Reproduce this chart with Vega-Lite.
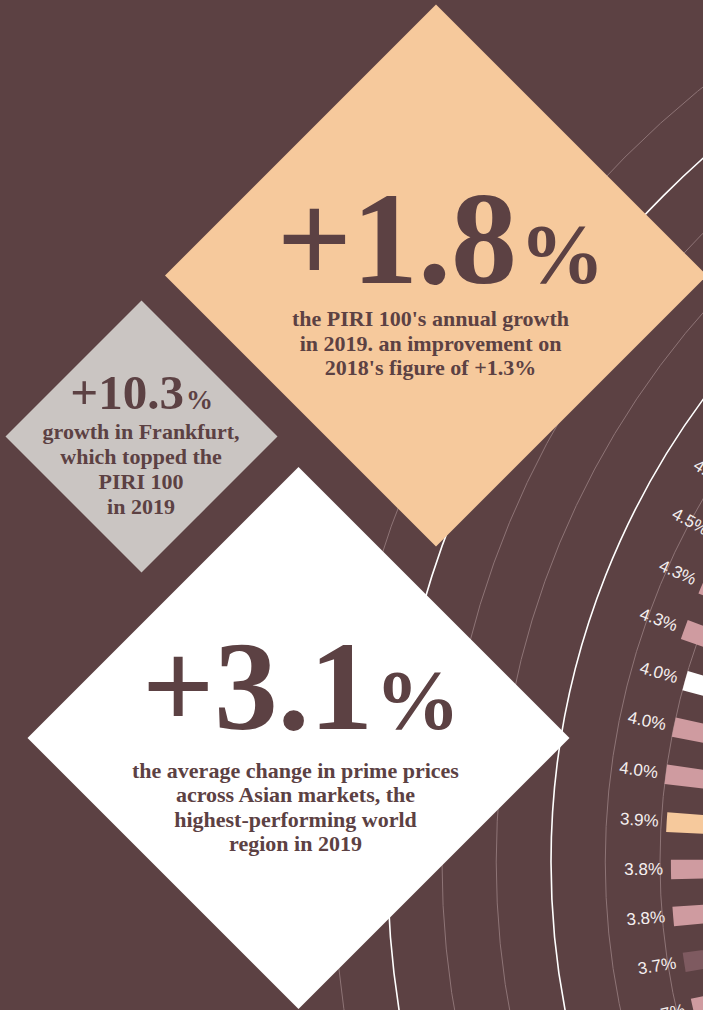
{
  "$schema": "https://vega.github.io/schema/vega-lite/v6.json",
  "width": 703,
  "height": 1010,
  "autosize": {"type": "none"},
  "padding": 0,
  "background": "#5c4143",
  "config": {"view": {"stroke": null}},
  "datasets": {
    "cities": [
      {"position": 1, "growth": 0.046, "group": "A"},
      {"position": 2, "growth": 0.045, "group": "A"},
      {"position": 3, "growth": 0.043, "group": "A"},
      {"position": 4, "growth": 0.043, "group": "A"},
      {"position": 5, "growth": 0.040, "group": "B"},
      {"position": 6, "growth": 0.040, "group": "A"},
      {"position": 7, "growth": 0.040, "group": "A"},
      {"position": 8, "growth": 0.039, "group": "C"},
      {"position": 9, "growth": 0.038, "group": "A"},
      {"position": 10, "growth": 0.038, "group": "A"},
      {"position": 11, "growth": 0.037, "group": "D"},
      {"position": 12, "growth": 0.037, "group": "A"}
    ],
    "grid": [
      {"level": 0.04, "kind": "minor"},
      {"level": 0.05, "kind": "minor"},
      {"level": 0.06, "kind": "major"},
      {"level": 0.07, "kind": "minor"},
      {"level": 0.08, "kind": "minor"},
      {"level": 0.09, "kind": "major"},
      {"level": 0.10, "kind": "minor"}
    ],
    "highlights": [
      {"id": "piri", "figure": "+1.8", "caption": ["the PIRI 100's annual growth", "in 2019. an improvement on", "2018's figure of +1.3%"]},
      {"id": "frankfurt", "figure": "+10.3", "caption": ["growth in Frankfurt,", "which topped the", "PIRI 100", "in 2019"]},
      {"id": "asia", "figure": "+3.1", "caption": ["the average change in prime prices", "across Asian markets, the", "highest-performing world", "region in 2019"]}
    ]
  },
  "layer": [
    {
      "data": {"name": "grid"},
      "mark": {"type": "arc", "filled": false, "theta": 0, "theta2": 6.2832},
      "encoding": {
        "x": {"datum": 189.19, "type": "quantitative", "scale": {"domain": [0, 100], "nice": false, "zero": false}, "axis": null},
        "y": {"datum": 85.35, "type": "quantitative", "scale": {"domain": [0, 100], "nice": false, "zero": false, "reverse": true}, "axis": null},
        "radius": {"field": "level", "type": "quantitative", "stack": null, "scale": {"type": "linear", "domain": [0, 0.1], "range": [452, 997]}},
        "stroke": {"field": "kind", "type": "nominal", "scale": {"domain": ["minor", "major"], "range": ["#8e7476", "#ffffff"]}, "legend": null},
        "strokeWidth": {"field": "kind", "type": "nominal", "scale": {"domain": ["minor", "major"], "range": [1, 1.6]}, "legend": null}
      }
    },
    {
      "data": {"name": "cities"},
      "mark": {"type": "arc", "thetaOffset": -0.0148, "theta2Offset": 0.0148},
      "encoding": {
        "x": {"datum": 189.19, "type": "quantitative", "axis": null},
        "y": {"datum": 85.35, "type": "quantitative", "axis": null},
        "theta": {"field": "position", "type": "quantitative", "stack": null, "scale": {"type": "linear", "domain": [0, 12], "range": [5.3435, 4.4869]}},
        "theta2": {"field": "position"},
        "radius": {"field": "growth", "type": "quantitative", "stack": null, "scale": {"type": "linear", "domain": [0, 0.1], "range": [452, 997]}},
        "radius2": {"datum": 0},
        "fill": {"field": "group", "type": "nominal", "scale": {"domain": ["A", "B", "C", "D"], "range": ["#cf9ba0", "#ffffff", "#f6c99c", "#7e5a60"]}, "legend": null}
      }
    },
    {
      "data": {"name": "cities"},
      "mark": {"type": "text", "font": "Liberation Sans", "fontSize": 17, "align": "right", "baseline": "middle", "radiusOffset": 8, "color": "#f5efef"},
      "encoding": {
        "x": {"datum": 189.19, "type": "quantitative", "axis": null},
        "y": {"datum": 85.35, "type": "quantitative", "axis": null},
        "theta": {"field": "position", "type": "quantitative", "stack": null, "scale": {"type": "linear", "domain": [0, 12], "range": [5.3435, 4.4869]}},
        "radius": {"field": "growth", "type": "quantitative", "stack": null, "scale": {"type": "linear", "domain": [0, 0.1], "range": [452, 997]}},
        "angle": {"field": "position", "type": "quantitative", "scale": {"type": "linear", "domain": [0, 12], "range": [36.16, -12.92]}},
        "text": {"field": "growth", "type": "quantitative", "format": ".1%"}
      }
    },
    {
      "data": {"name": "highlights"},
      "transform": [{"filter": "datum.id === 'piri'"}],
      "layer": [
        {
          "mark": {"type": "point", "shape": "diamond", "filled": true, "size": 293764, "color": "#f6c99c", "opacity": 1, "strokeWidth": 0},
          "encoding": {
            "x": {"datum": 62.02, "type": "quantitative", "axis": null},
            "y": {"datum": 27.28, "type": "quantitative", "axis": null}
          }
        },
        {
          "mark": {"type": "text", "font": "Liberation Serif", "fontWeight": "bold", "fontSize": 132, "align": "right", "baseline": "alphabetic", "color": "#5c4143"},
          "encoding": {
            "x": {"datum": 73.54, "type": "quantitative", "axis": null},
            "y": {"datum": 28.02, "type": "quantitative", "axis": null},
            "text": {"field": "figure", "type": "nominal"}
          }
        },
        {
          "mark": {"type": "text", "font": "Liberation Serif", "fontWeight": "bold", "fontSize": 85, "align": "left", "baseline": "alphabetic", "color": "#5c4143", "text": "%"},
          "encoding": {
            "x": {"datum": 73.9, "type": "quantitative", "axis": null},
            "y": {"datum": 28.02, "type": "quantitative", "axis": null}
          }
        },
        {
          "mark": {"type": "text", "font": "Liberation Serif", "fontWeight": "bold", "fontSize": 22, "lineHeight": 24.5, "align": "center", "baseline": "alphabetic", "color": "#5c4143"},
          "encoding": {
            "x": {"datum": 61.24, "type": "quantitative", "axis": null},
            "y": {"datum": 32.28, "type": "quantitative", "axis": null},
            "text": {"field": "caption", "type": "nominal"}
          }
        }
      ]
    },
    {
      "data": {"name": "highlights"},
      "transform": [{"filter": "datum.id === 'frankfurt'"}],
      "layer": [
        {
          "mark": {"type": "point", "shape": "diamond", "filled": true, "size": 73984, "color": "#cac5c2", "opacity": 1, "strokeWidth": 0},
          "encoding": {
            "x": {"datum": 20.13, "type": "quantitative", "axis": null},
            "y": {"datum": 43.22, "type": "quantitative", "axis": null}
          }
        },
        {
          "mark": {"type": "text", "font": "Liberation Serif", "fontWeight": "bold", "fontSize": 49, "align": "right", "baseline": "alphabetic", "color": "#5c4143"},
          "encoding": {
            "x": {"datum": 26.17, "type": "quantitative", "axis": null},
            "y": {"datum": 40.5, "type": "quantitative", "axis": null},
            "text": {"field": "figure", "type": "nominal"}
          }
        },
        {
          "mark": {"type": "text", "font": "Liberation Serif", "fontWeight": "bold", "fontSize": 27, "align": "left", "baseline": "alphabetic", "color": "#5c4143", "text": "%"},
          "encoding": {
            "x": {"datum": 26.46, "type": "quantitative", "axis": null},
            "y": {"datum": 40.5, "type": "quantitative", "axis": null}
          }
        },
        {
          "mark": {"type": "text", "font": "Liberation Serif", "fontWeight": "bold", "fontSize": 22, "lineHeight": 25, "align": "center", "baseline": "alphabetic", "color": "#5c4143"},
          "encoding": {
            "x": {"datum": 20.06, "type": "quantitative", "axis": null},
            "y": {"datum": 43.47, "type": "quantitative", "axis": null},
            "text": {"field": "caption", "type": "nominal"}
          }
        }
      ]
    },
    {
      "data": {"name": "highlights"},
      "transform": [{"filter": "datum.id === 'asia'"}],
      "layer": [
        {
          "mark": {"type": "point", "shape": "diamond", "filled": true, "size": 293764, "color": "#ffffff", "opacity": 1, "strokeWidth": 0},
          "encoding": {
            "x": {"datum": 42.46, "type": "quantitative", "axis": null},
            "y": {"datum": 73.07, "type": "quantitative", "axis": null}
          }
        },
        {
          "mark": {"type": "text", "font": "Liberation Serif", "fontWeight": "bold", "fontSize": 127, "align": "right", "baseline": "alphabetic", "color": "#5c4143"},
          "encoding": {
            "x": {"datum": 53.06, "type": "quantitative", "axis": null},
            "y": {"datum": 72.18, "type": "quantitative", "axis": null},
            "text": {"field": "figure", "type": "nominal"}
          }
        },
        {
          "mark": {"type": "text", "font": "Liberation Serif", "fontWeight": "bold", "fontSize": 85, "align": "left", "baseline": "alphabetic", "color": "#5c4143", "text": "%"},
          "encoding": {
            "x": {"datum": 53.35, "type": "quantitative", "axis": null},
            "y": {"datum": 72.18, "type": "quantitative", "axis": null}
          }
        },
        {
          "mark": {"type": "text", "font": "Liberation Serif", "fontWeight": "bold", "fontSize": 22, "lineHeight": 24.3, "align": "center", "baseline": "alphabetic", "color": "#5c4143"},
          "encoding": {
            "x": {"datum": 42.03, "type": "quantitative", "axis": null},
            "y": {"datum": 77.03, "type": "quantitative", "axis": null},
            "text": {"field": "caption", "type": "nominal"}
          }
        }
      ]
    }
  ]
}
